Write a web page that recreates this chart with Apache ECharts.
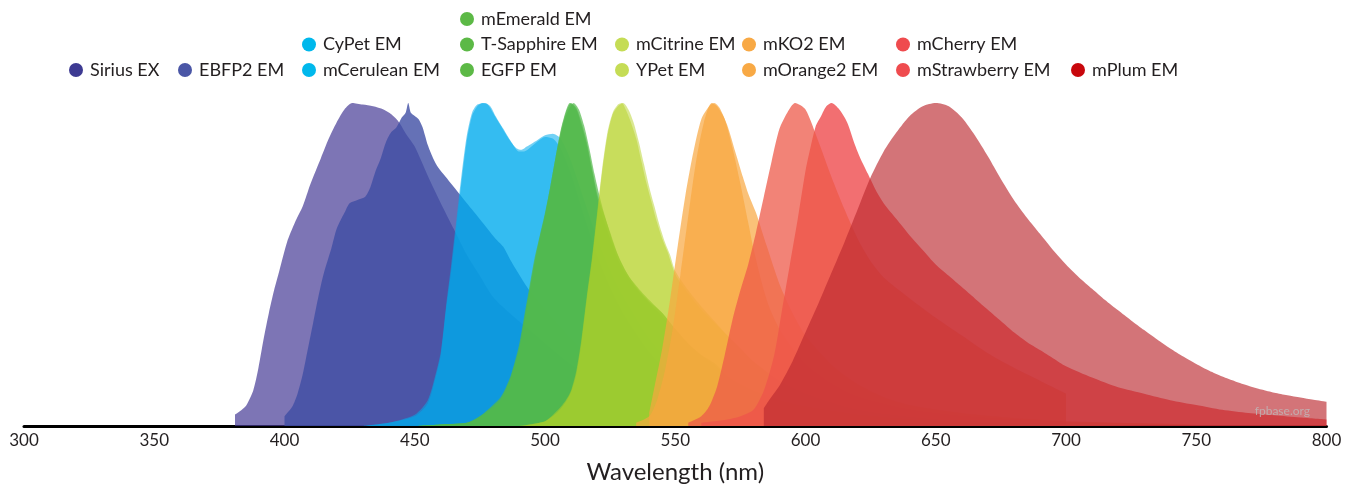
<!DOCTYPE html>
<html><head><meta charset="utf-8">
<script src="https://cdn.jsdelivr.net/npm/echarts@6/dist/echarts.min.js"></script>
<style>html,body{margin:0;padding:0;background:#fff}#c{width:1356px;height:490px}</style>
</head><body><div id="c"></div><script>
// wavelength (nm), normalized intensity (%)
const siriusEx = [[381,3.5],[385,6],[388,11],[390,18],[392,27],[394,35],[396,42],[398,48],[401,57],[404,63],[407,68],[410,75],[414,83],[417,89],[420,94],[423,98],[426,100],[430,99.5],[434,99],[438,98],[441,96.5],[444,94],[447,90],[450,86.5],[455,77.5],[460,69],[465,61],[470,53],[475,46.5],[480,40],[485,36],[490,32.5],[495,29],[500,25.5],[510,19],[520,14],[530,10],[540,7],[550,5],[560,3.5],[580,2],[600,1],[620,0]];
const ebfp2Em = [[400,3],[403,6],[405,10],[407,16],[409,24],[411,32],[413,40],[415,47],[418,55],[420,61],[423,66],[425,69],[428,70],[431,71],[433,74],[435,79],[437,83],[439,88],[441,91],[443,92.5],[445,95.5],[446.5,97],[447.5,100],[448.5,97],[450,96],[451.5,95],[453,92.5],[455,87],[457,83],[459,80],[462,77],[466,73],[469,70],[472,67],[475,64],[478,61],[481,58],[484,55.5],[487,51],[490,47],[494,42],[500,36],[510,27],[520,19],[530,13],[540,9],[550,6],[560,4],[580,2],[600,1],[620,0]];
const cyPetEm = [[430,0],[440,1],[450,3.5],[455,8],[458,16],[460,23],[462,37],[464,50],[466,64],[468,78],[470,90],[472,97],[474,99.5],[477,100],[479,99],[481,96],[484,92],[487,88],[490,85],[492,85],[494,86],[497,88],[500,89.5],[503,89],[506,86],[510,78],[515,65],[520,53],[525,43],[530,35],[540,23],[550,15],[560,10],[570,6],[580,4],[600,1.5],[620,0.5],[650,0]];
const mCeruleanEm = [[430,0],[440,1],[450,3],[455,7],[458,15],[460,22],[462,36],[464,48],[466,62],[468,76],[470,88.5],[472,96],[474,99],[476,100],[478,99.5],[480,97],[483,93],[486,89],[489,86],[491,85.5],[493,86.5],[495,87.5],[497,88.5],[500,90],[503,90.5],[506,89],[510,82],[515,70],[520,58],[525,48],[530,40],[540,27],[550,18],[560,12],[570,8],[580,5],[600,2],[620,1],[650,0]];
const mEmeraldEm = [[450,0],[460,0.5],[470,1],[475,3],[480,6],[483,8.5],[485,11.5],[487,15.5],[490,24],[492,33],[494,42],[496,51],[498,58.5],[500,65.5],[502,74],[504,83],[506,91.5],[508,97.5],[509.5,100],[512,98],[514,93],[516,87],[518,79],[520,71],[522,65],[525,58],[528,51.5],[531,47],[535,42.5],[540,38],[545,34],[550,29],[555,24.5],[560,21],[565,18.5],[570,15],[575,12.5],[580,10.5],[590,7.5],[600,5.5],[620,3],[650,1.5],[700,0]];
const tSapphireEm = [[450,0],[460,0.5],[470,1],[475,2.5],[480,5.5],[483,8],[485,11],[487,15],[490,23],[492,32],[494,41],[496,50],[498,58],[500,65],[502,73],[504,82],[506,90],[508,96],[511,100],[513,98],[515,93],[517,86],[519,78],[521,71],[523,65],[526,57],[529,51],[532,46.5],[536,42.5],[540,39],[545,35],[550,30],[555,25.5],[560,22],[565,19],[570,15.5],[575,13],[580,11],[590,8],[600,6],[620,3.5],[650,1.5],[700,0]];
const egfpEm = [[450,0],[460,0.5],[470,1],[475,3],[480,6.5],[483,9],[485,12],[487,16],[490,25],[492,34],[494,43],[496,52],[498,59],[500,66],[502,74],[504,83],[506,91],[508,97],[510,100],[512,98.5],[514,94],[516,88],[518,80],[520,72],[522,67],[525,60],[528,53],[531,48],[535,43],[540,38.5],[545,35],[550,30],[555,25.5],[560,22],[565,19.5],[570,15.5],[575,13],[580,11],[590,8],[600,6],[620,3.5],[650,1.5],[700,0]];
const mCitrineEm = [[490,0],[500,1.5],[505,5],[508,8],[510,11],[512,17],[514,27],[516,40],[518,52],[520,66],[522,80],[524,91],[526,97],[528,99.5],[529.5,100],[531,98],[533,94],[535,89],[537,82],[539,75],[541,69],[543,63],[545,58],[547,54],[550,47],[555,41],[560,36],[565,32],[570,28],[575,24],[580,20],[590,14],[600,10],[620,5],[650,2],[700,0.5]];
const yPetEm = [[490,0],[500,1.5],[505,4.5],[508,7.5],[510,10.5],[512,16],[514,26],[516,39],[518,51],[520,65],[522,79],[524,90],[526,96.5],[528,99],[530,100],[532,98],[534,94],[536,88],[538,81],[540,74],[542,68],[544,62],[546,57],[548,53],[550,48],[555,42],[560,37],[565,32.5],[570,28],[575,24],[580,20],[590,14],[600,10],[620,5],[650,2],[700,0.5]];
const mKO2Em = [[540,4],[542,12],[545,24],[548,39],[551,56],[554,72],[557,85],[560,95],[563,99],[565,100],[567,98.5],[570,93],[573,85],[576,77],[578,72],[581,66],[585,56],[590,44],[595,35],[600,28],[610,19],[620,13],[630,9],[640,6.5],[660,4],[680,2.5],[700,1.5],[750,0.5]];
const mOrange2Em = [[535,1],[540,3],[543,8],[546,17],[549,30],[552,47],[555,65],[558,82],[561,94],[564,100],[566,99],[569,95],[572,86],[575,75],[578,63],[580,55],[583,45],[586,37],[590,30],[595,24],[600,19],[610,13],[620,9],[640,5],[660,3],[700,1.2],[750,0.5]];
const mCherryEm = [[560,1],[570,2],[575,3],[580,5],[584,11],[588,22],[591,36],[594,50],[597,64],[600,79],[602,86.5],[604,93],[606,96],[608,99],[610,100],[613,98],[616,94],[619,87],[621,83],[624,78],[627,73],[630,69],[635,64],[640,59],[645,54.5],[650,50],[655,46.5],[660,43],[665,39.5],[670,36],[675,32.5],[680,29],[685,26],[690,23.5],[695,21],[700,18.5],[710,15],[720,12],[730,10],[740,8],[750,6.5],[760,5],[770,4],[780,3.3],[790,2.6],[800,2]];
const mStrawberryEm = [[555,1],[560,3],[563,6],[566,12],[569,22],[572,33],[575,42],[578,50],[581,60],[584,71],[587,82],[590,92],[593,97],[596,100],[600,98],[605,88],[610,77],[615,67],[620,58],[625,51],[630,46],[640,39.5],[650,33.5],[660,28],[670,22.5],[680,18],[690,14],[700,10]];
const mPlumEm = [[584,5.5],[586,8],[590,12.5],[595,20],[600,29],[605,38],[610,47.5],[615,57],[620,67],[625,77],[630,85],[635,91],[640,96],[645,99],[650,100],[655,99],[660,95.5],[665,90],[670,83.5],[675,76.5],[680,70],[685,64.5],[690,59.5],[695,54.5],[700,50],[705,46],[710,42.5],[715,39],[720,35.8],[725,32.7],[730,29.7],[735,26.8],[740,24],[745,21.5],[750,19.2],[755,17.1],[760,15.3],[765,13.8],[770,12.5],[775,11.3],[780,10.3],[785,9.5],[790,8.8],[795,8.1],[800,7.5]];

const xTickValues = [300,350,400,450,500,550,600,650,700,750,800];

const seriesDefs = [
  {name:'Sirius EX', data:siriusEx, color:'#463a95', op:0.7, legend:'#3d3a92'},
  {name:'EBFP2 EM', data:ebfp2Em, color:'#3f4ea4', op:0.8, legend:'#4a56a6'},
  {name:'CyPet EM', data:cyPetEm, color:'#00acec', op:0.55, legend:'#00b8ec'},
  {name:'mCerulean EM', data:mCeruleanEm, color:'#00acec', op:0.55, legend:'#00b8ec'},
  {name:'mEmerald EM', data:mEmeraldEm, color:'#52b94c', op:0.7, legend:'#5cb946'},
  {name:'T-Sapphire EM', data:tSapphireEm, color:'#52b94c', op:0.7, legend:'#5cb946'},
  {name:'EGFP EM', data:egfpEm, color:'#52b94c', op:0.7, legend:'#5cb946'},
  {name:'mCitrine EM', data:mCitrineEm, color:'#b5d126', op:0.5, legend:'#c5dc55'},
  {name:'YPet EM', data:yPetEm, color:'#b5d126', op:0.5, legend:'#c5dc55'},
  {name:'mKO2 EM', data:mKO2Em, color:'#f8a63f', op:0.7, legend:'#f8a945'},
  {name:'mOrange2 EM', data:mOrange2Em, color:'#f8a63f', op:0.7, legend:'#f8a945'},
  {name:'mCherry EM', data:mCherryEm, color:'#ef4b4e', op:0.8, legend:'#ef4b4e'},
  {name:'mStrawberry EM', data:mStrawberryEm, color:'#ee5a4a', op:0.75, legend:'#ef4b4e'},
  {name:'mPlum EM', data:mPlumEm, color:'#bb2a30', op:0.65, legend:'#c8070c'}
];

const legendColumns = [['Sirius EX'],['EBFP2 EM'],['CyPet EM','mCerulean EM'],['mEmerald EM','T-Sapphire EM','EGFP EM'],['mCitrine EM','YPet EM'],['mKO2 EM','mOrange2 EM'],['mCherry EM','mStrawberry EM'],['mPlum EM']];
const legendDotX = [76,185,309,467,622,749,903,1078];
const bottomRowY = 71, rowPitch = 25.5;

const legendColor = {};
seriesDefs.forEach(s => legendColor[s.name] = s.legend);

// one legend component per item, stacked bottom-aligned per column
const legends = [];
legendColumns.forEach((col, i) => {
  col.forEach((n, j) => {
    const rowFromBottom = col.length - 1 - j;
    const cy = bottomRowY - rowPitch * rowFromBottom;
    legends.push({
      orient: 'horizontal',
      left: legendDotX[i] - 7,
      top: cy - 10,
      height: 20,
      padding: 0,
      itemWidth: 14,
      itemHeight: 14,
      icon: 'circle',
      textStyle: {fontFamily: 'Lato', fontSize: 18, color: '#231f20', padding: [0,0,0,2]},
      data: [{name: n, itemStyle: {color: legendColor[n]}}]
    });
  });
});

const chart = echarts.init(document.getElementById('c'), null, {renderer: 'canvas'});
chart.setOption({
  animation: false,
  backgroundColor: '#fff',
  textStyle: {fontFamily: 'Lato'},
  legend: legends,
  grid: {left: 24, right: 29.5, top: 103, bottom: 64, containLabel: false},
  xAxis: {
    type: 'value', min: xTickValues[0], max: xTickValues[xTickValues.length-1], interval: 50,
    name: 'Wavelength (nm)', nameLocation: 'middle', nameGap: 34,
    nameTextStyle: {fontFamily: 'Lato', fontSize: 24, color: '#231f20'},
    axisLine: {lineStyle: {color: '#000', width: 3}},
    axisTick: {show: false},
    splitLine: {show: false},
    axisLabel: {fontFamily: 'Lato', fontSize: 17, color: '#231f20', margin: 6}
  },
  yAxis: {type: 'value', min: 0, max: 100, show: false, splitLine: {show: false}},
  graphic: [{
    type: 'text', right: 46, top: 405, z: 100,
    style: {text: 'fpbase.org', fill: 'rgba(190,190,190,0.75)', font: '12px Lato'}
  }],
  series: seriesDefs.map(s => ({
    name: s.name, type: 'line', data: s.data,
    smooth: 0.25, showSymbol: false, symbol: 'none',
    color: s.color,
    itemStyle: {color: s.color},
    lineStyle: {width: 0, opacity: 0},
    areaStyle: {color: s.color, opacity: s.op},
    emphasis: {disabled: true}
  }))
});
</script></body></html>
